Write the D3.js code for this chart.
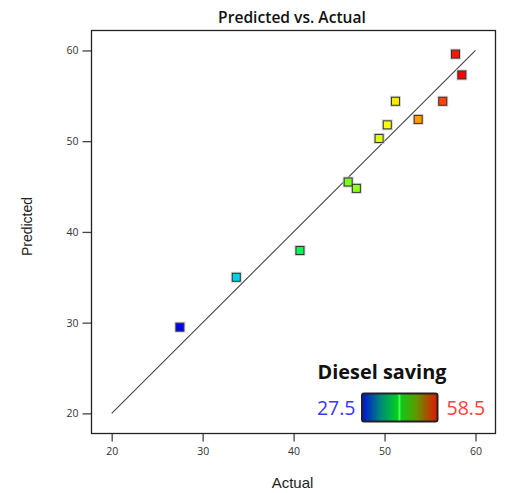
<!DOCTYPE html>
<html><head><meta charset="utf-8">
<script src="https://cdn.jsdelivr.net/npm/d3@7/dist/d3.min.js"></script>
<style>
html,body{margin:0;padding:0;background:#fff;}
svg{display:block;font-family:"Open Sans",sans-serif;}
</style></head>
<body><svg id="chart" width="505" height="493"></svg>
<script>
const actual    = [27.5, 33.7, 40.7, 46.0, 46.9, 49.4, 50.3, 51.2, 53.7, 56.4, 57.8, 58.5];
const predicted = [29.5, 35.0, 37.95, 45.5, 44.8, 50.3, 51.8, 54.4, 52.4, 54.4, 59.6, 57.3];
const xTicks = [20, 30, 40, 50, 60];
const yTicks = [20, 30, 40, 50, 60];
const colorStops = [27.5, 33.2, 42, 50.5, 58.5];
const colorRange = ["#0000ff", "#00ccee", "#00ff3c", "#ffff00", "#ff0000"];
const legendMin = "27.5", legendMax = "58.5";

const svg = d3.select("#chart");
const L = 91.5, R = 495.5, T = 30.5, B = 433.5;
const x = d3.scaleLinear().domain([17.78, 62.2]).range([L, R]);
const y = d3.scaleLinear().domain([17.78, 62.2]).range([B, T]);
const color = d3.scaleLinear().domain(colorStops).range(colorRange);

// title
svg.append("text").attr("x", 292).attr("y", 23).attr("text-anchor", "middle")
  .attr("font-size", 15.6).attr("font-weight", 600).attr("fill", "#111").text("Predicted vs. Actual");

// axes
const xAxis = svg.append("g").attr("transform", `translate(0,${B})`)
  .call(d3.axisBottom(x).tickValues(xTicks).tickSize(8).tickPadding(6).tickFormat(d3.format("d")));
const yAxis = svg.append("g").attr("transform", `translate(${L},0)`)
  .call(d3.axisLeft(y).tickValues(yTicks).tickSize(9).tickPadding(4).tickFormat(d3.format("d")));
[xAxis, yAxis].forEach(g => {
  g.select(".domain").remove();
  g.selectAll(".tick line").attr("stroke", "#444").attr("stroke-width", 1.3);
  g.selectAll(".tick text").attr("fill", "#333").attr("font-size", 10.5).attr("font-family", "Open Sans");
});

// frame
svg.append("rect").attr("x", L).attr("y", T).attr("width", R - L).attr("height", B - T)
  .attr("fill", "none").attr("stroke", "#222").attr("stroke-width", 1.3);

// axis titles
svg.append("text").attr("x", 292.5).attr("y", 488).attr("text-anchor", "middle")
  .attr("font-family", "Liberation Sans").attr("font-size", 15).attr("fill", "#222").text("Actual");
svg.append("text").attr("transform", "translate(31.5,226.5) rotate(-90)").attr("text-anchor", "middle")
  .attr("font-family", "Liberation Sans").attr("font-size", 14).attr("fill", "#222").text("Predicted");

// diagonal
svg.append("line").attr("x1", x(20)).attr("y1", y(20)).attr("x2", x(60)).attr("y2", y(60))
  .attr("stroke", "#444").attr("stroke-width", 1.1);

// points
const pts = actual.map((a, i) => ({a, p: predicted[i]}));
const s = 8;
svg.append("g").selectAll("rect.halo").data(pts).join("rect")
  .attr("x", d => x(d.a) - s/2 - 1.5).attr("y", d => y(d.p) - s/2 - 1.5)
  .attr("width", s + 3).attr("height", s + 3).attr("fill", "#c8c8c8").attr("opacity", 0.8);
svg.append("g").selectAll("rect.pt").data(pts).join("rect")
  .attr("x", d => x(d.a) - s/2).attr("y", d => y(d.p) - s/2)
  .attr("width", s).attr("height", s)
  .attr("fill", d => color(d.a)).attr("stroke", "#333").attr("stroke-width", 1);

// legend
const defs = svg.append("defs");
const grad = defs.append("linearGradient").attr("id", "lg");
[[0, "#0010d8"], [0.25, "#008a78"], [0.47, "#00d020"], [0.495, "#50ff50"], [0.52, "#10c818"], [0.72, "#609800"], [0.88, "#b04800"], [1, "#e01800"]]
  .forEach(([o, c]) => grad.append("stop").attr("offset", o).attr("stop-color", c));
svg.append("rect").attr("x", 362).attr("y", 393.5).attr("width", 75.5).attr("height", 28).attr("rx", 2)
  .attr("fill", "url(#lg)").attr("stroke", "#222").attr("stroke-width", 2);
svg.append("text").attr("x", 382).attr("y", 379).attr("text-anchor", "middle")
  .attr("font-size", 19.9).attr("font-weight", 700).attr("fill", "#111").text("Diesel saving");
svg.append("text").attr("x", 355.5).attr("y", 414.5).attr("text-anchor", "end")
  .attr("font-size", 19.5).attr("fill", "#3838ff").text(legendMin);
svg.append("text").attr("x", 446.5).attr("y", 414.5).attr("text-anchor", "start")
  .attr("font-size", 19.5).attr("fill", "#ff3c3c").text(legendMax);
</script></body></html>
